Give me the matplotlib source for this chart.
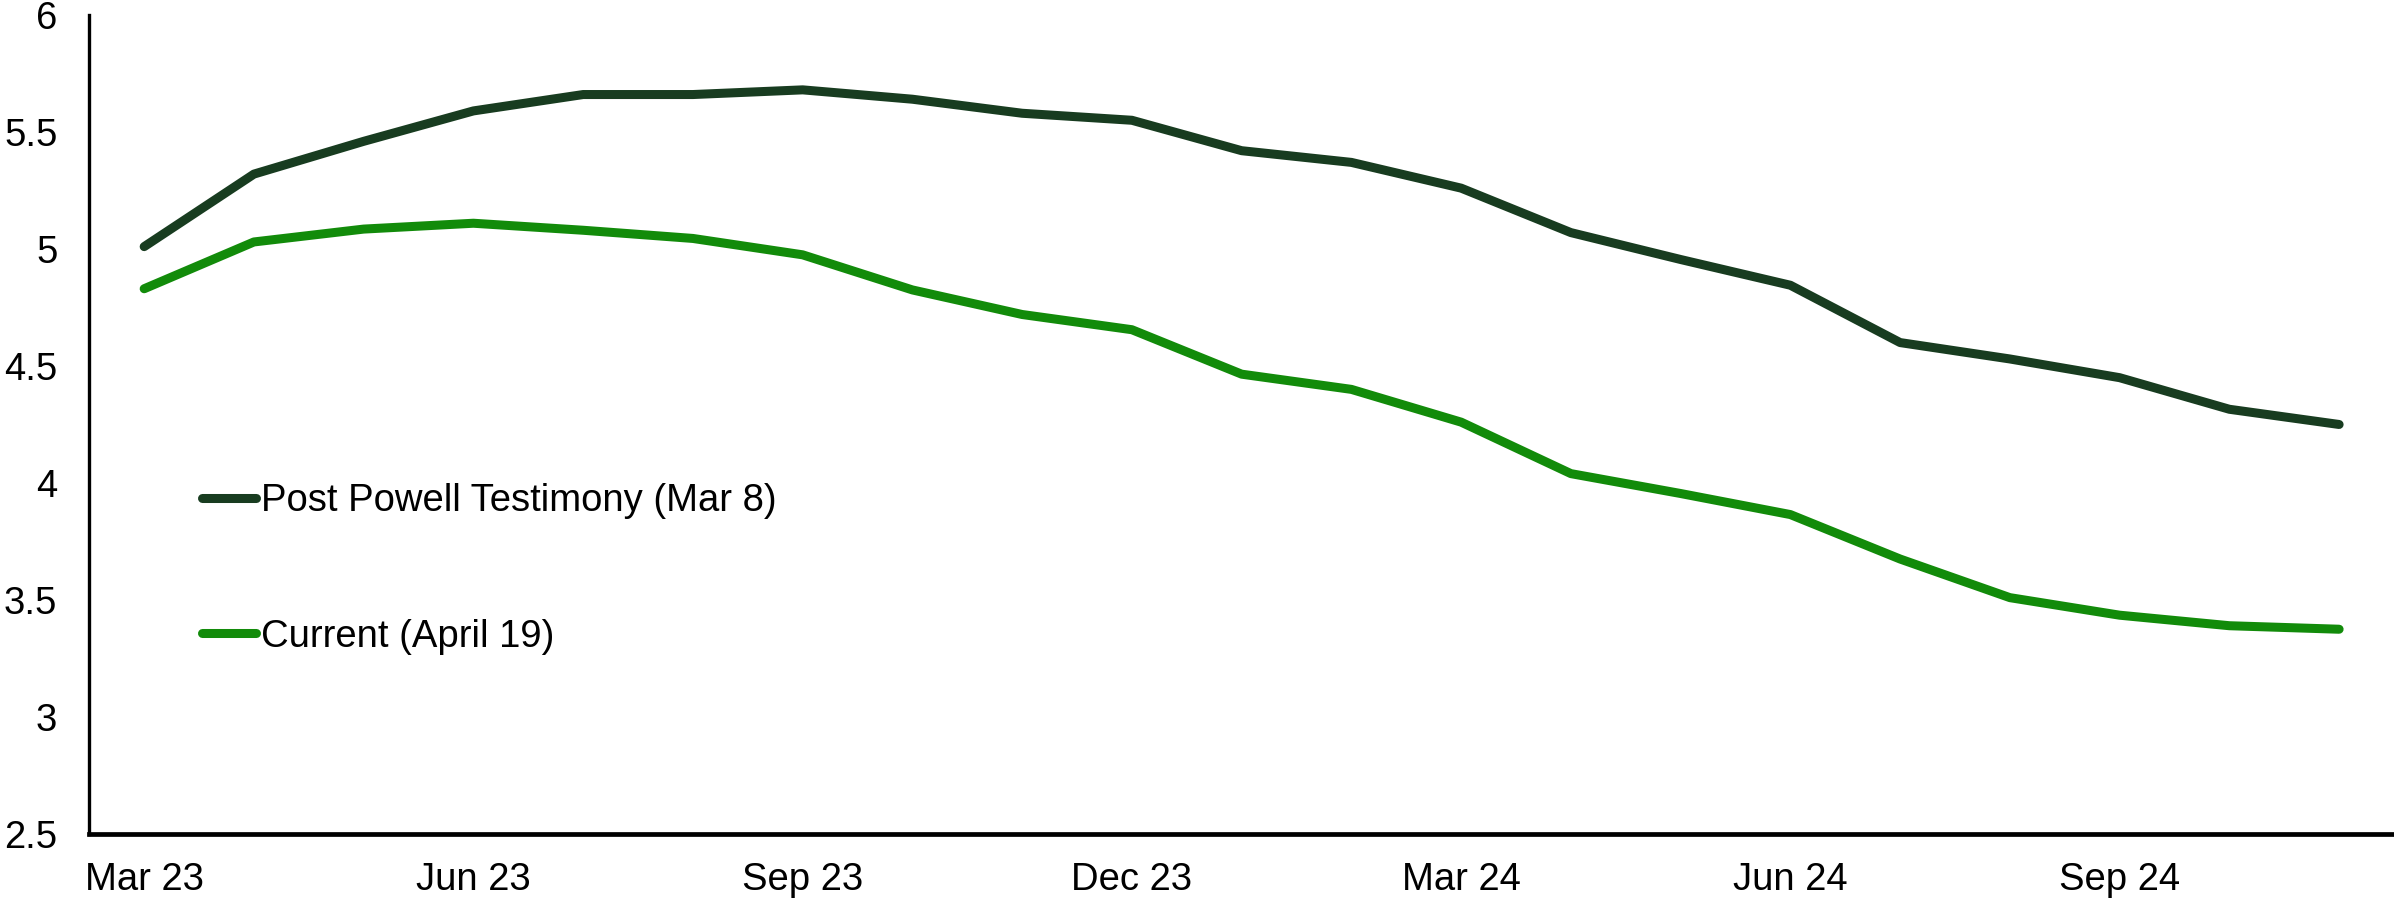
import numpy as np
import matplotlib.pyplot as plt

# monthly points, Mar 23 .. Nov 24
months = ['Mar 23', 'Apr 23', 'May 23', 'Jun 23', 'Jul 23', 'Aug 23', 'Sep 23',
          'Oct 23', 'Nov 23', 'Dec 23', 'Jan 24', 'Feb 24', 'Mar 24', 'Apr 24',
          'May 24', 'Jun 24', 'Jul 24', 'Aug 24', 'Sep 24', 'Oct 24', 'Nov 24']

post_powell = [5.01, 5.32, 5.46, 5.59, 5.66, 5.66, 5.68, 5.64, 5.58, 5.55, 5.42,
               5.37, 5.26, 5.07, 4.955, 4.845, 4.60, 4.53, 4.45, 4.315, 4.25]
current = [4.83, 5.03, 5.085, 5.11, 5.08, 5.045, 4.975, 4.825, 4.72, 4.655, 4.465,
           4.40, 4.26, 4.04, 3.955, 3.865, 3.675, 3.51, 3.435, 3.39, 3.375]

label_every = 3
yticks = [2.5, 3, 3.5, 4, 4.5, 5, 5.5, 6]
ytick_labels = ['2.5', '3', '3.5', '4', '4.5', '5', '5.5', '6']

plt.rcParams['font.family'] = ['Liberation Sans', 'DejaVu Sans']

fig = plt.figure(figsize=(23.94, 9.02), dpi=100)
ax = fig.add_axes([0.0373, 0.0754, 0.9627, 0.908])

x = np.arange(len(months))
ax.plot(x, post_powell, color='#183c20', lw=6.5, solid_capstyle='round',
        solid_joinstyle='round', label='Post Powell Testimony (Mar 8)')
ax.plot(x, current, color='#128b0a', lw=6.5, solid_capstyle='round',
        solid_joinstyle='round', label='Current (April 19)')

ax.set_xlim(-0.5, len(months) - 0.5)
ax.set_ylim(2.5, 6)
ax.set_xticks(x[::label_every])
ax.set_xticklabels(months[::label_every])
ax.set_yticks(yticks)
ax.set_yticklabels(ytick_labels)
ax.tick_params(axis='both', length=0, labelsize=27.5)
ax.tick_params(axis='y', pad=23)
ax.tick_params(axis='x', pad=20)

for s in ['top', 'right']:
    ax.spines[s].set_visible(False)
ax.spines['left'].set_linewidth(2.4)
ax.spines['bottom'].set_linewidth(3.4)

leg = ax.legend(loc='upper left', bbox_to_anchor=(0.049, 0.428), frameon=False,
                fontsize=27.5, borderpad=0, borderaxespad=0, handlelength=1.4,
                handletextpad=0.15, labelspacing=2.6)
for h in leg.get_lines():
    h.set_solid_capstyle('round')

fig.savefig('out.png', dpi=100)
